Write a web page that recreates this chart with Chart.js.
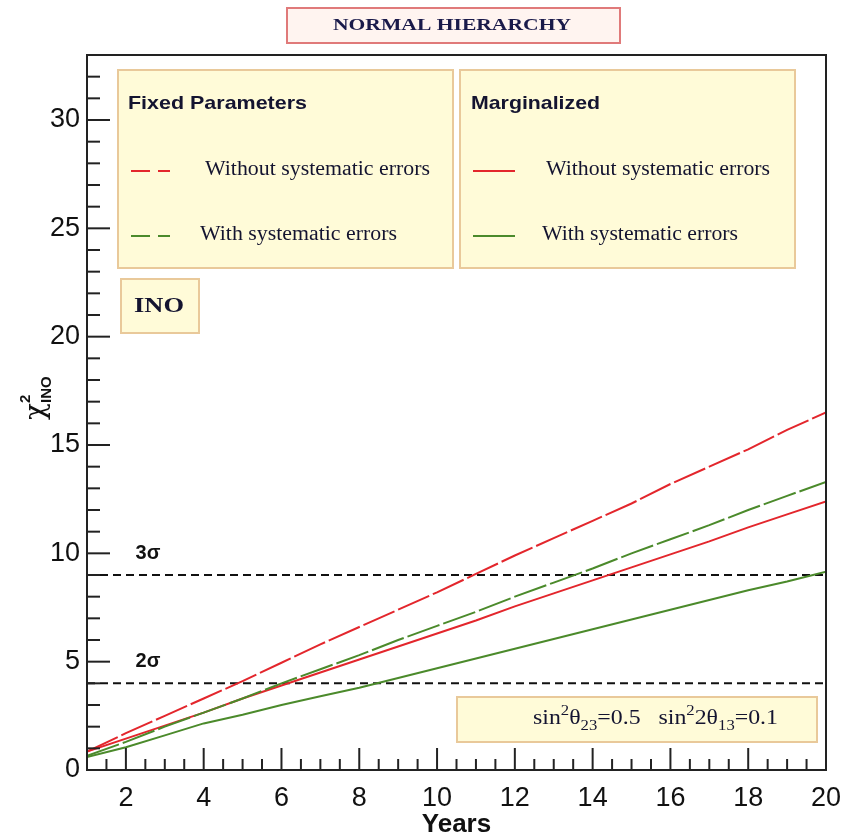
<!DOCTYPE html>
<html>
<head>
<meta charset="utf-8">
<script src="https://cdn.jsdelivr.net/npm/chart.js@4.4.1/dist/chart.umd.min.js"></script>
<style>
  html, body { margin: 0; padding: 0; background: #ffffff; }
  #wrap { width: 842px; height: 839px; }
</style>
</head>
<body>
<div id="wrap"><canvas id="c" width="842" height="839"></canvas></div>
<script>
// Exposure in years
const years = [1, 2, 3, 4, 5, 6, 7, 8, 9, 10, 11, 12, 13, 14, 15, 16, 17, 18, 19, 20];

// chi^2 for INO, fixed oscillation parameters
const fixedNoSys   = [0.85, 1.70, 2.50, 3.30, 4.10, 4.95, 5.80, 6.60, 7.40, 8.20, 9.05, 9.90, 10.70, 11.50, 12.30, 13.20, 14.00, 14.80, 15.70, 16.50];
const fixedWithSys = [0.65, 1.30, 2.00, 2.65, 3.30, 4.00, 4.65, 5.30, 6.00, 6.65, 7.30, 8.00, 8.65, 9.30, 10.00, 10.65, 11.30, 12.00, 12.65, 13.30];

// chi^2 for INO, marginalized over oscillation parameters
const margNoSys    = [0.85, 1.45, 2.05, 2.65, 3.30, 3.90, 4.50, 5.10, 5.70, 6.30, 6.90, 7.55, 8.15, 8.75, 9.35, 9.95, 10.55, 11.20, 11.80, 12.40];
const margWithSys  = [0.60, 1.05, 1.60, 2.15, 2.55, 3.00, 3.40, 3.80, 4.25, 4.70, 5.15, 5.60, 6.05, 6.50, 6.95, 7.40, 7.85, 8.30, 8.70, 9.15];

// Significance thresholds
const sigmaLevels = [4, 9];
const sigmaNames  = ['2σ', '3σ'];

// Axis ticks
const xTickLabels = [2, 4, 6, 8, 10, 12, 14, 16, 18, 20];
const yTickLabels = [0, 5, 10, 15, 20, 25, 30];

const RED = '#e3262c';
const GREEN = '#4b8a2b';
const BOX_FILL = '#fffbd8';
const BOX_EDGE = '#e9c99a';
const INK = '#141430';

const toXY = (ys) => ys.map((y, i) => ({ x: years[i], y }));

const datasets = [
  { data: toXY(fixedNoSys),   borderColor: RED,   borderWidth: 2, borderDash: [34, 4] },
  { data: toXY(fixedWithSys), borderColor: GREEN, borderWidth: 2, borderDash: [34, 4] },
  { data: toXY(margNoSys),    borderColor: RED,   borderWidth: 2 },
  { data: toXY(margWithSys),  borderColor: GREEN, borderWidth: 2 }
];
sigmaLevels.forEach((lvl) => {
  datasets.push({
    data: [{ x: years[0], y: lvl }, { x: years[years.length - 1], y: lvl }],
    borderColor: '#111111', borderWidth: 2, borderDash: [8, 5]
  });
});

function box(ctx, x, y, w, h, fill, edge, lw) {
  ctx.save();
  ctx.fillStyle = fill;
  ctx.fillRect(x, y, w, h);
  ctx.strokeStyle = edge;
  ctx.lineWidth = lw;
  ctx.strokeRect(x, y, w, h);
  ctx.restore();
}

function sample(ctx, x1, x2, y, color, dash) {
  ctx.save();
  ctx.strokeStyle = color;
  ctx.lineWidth = 2;
  ctx.setLineDash(dash);
  ctx.beginPath();
  ctx.moveTo(x1, y);
  ctx.lineTo(x2, y);
  ctx.stroke();
  ctx.restore();
}

// Text drawn from its left edge, optionally stretched to a given width
function text(ctx, str, x, y, font, color, width) {
  ctx.save();
  ctx.font = font;
  ctx.fillStyle = color || '#111';
  ctx.textAlign = 'left';
  ctx.textBaseline = 'middle';
  const w = ctx.measureText(str).width;
  const sx = width ? width / w : 1;
  ctx.translate(x, y);
  ctx.scale(sx, 1);
  ctx.fillText(str, 0, 0);
  ctx.restore();
}

// Runs of [string, font, baselineShift] laid out left to right, stretched to a width
function runs(ctx, parts, x, y, color, width) {
  ctx.save();
  let total = 0;
  parts.forEach(([s, f]) => { ctx.font = f; total += ctx.measureText(s).width; });
  const sx = width ? width / total : 1;
  ctx.translate(x, y);
  ctx.scale(sx, 1);
  ctx.fillStyle = color || '#111';
  ctx.textBaseline = 'alphabetic';
  ctx.textAlign = 'left';
  let cx = 0;
  parts.forEach(([s, f, dy]) => {
    ctx.font = f;
    ctx.fillText(s, cx, dy);
    cx += ctx.measureText(s).width;
  });
  ctx.restore();
}

const decorations = {
  id: 'decorations',
  afterDatasetsDraw(chart) {
    const { ctx, chartArea: a, scales: { x, y } } = chart;

    // Inward ticks on the left axis
    ctx.save();
    ctx.strokeStyle = '#222';
    ctx.lineWidth = 2;
    for (let v = 0; v <= 33; v += 1) {
      const py = y.getPixelForValue(v);
      const len = v % 5 === 0 ? 23 : 13;
      ctx.beginPath();
      ctx.moveTo(a.left, py);
      ctx.lineTo(a.left + len, py);
      ctx.stroke();
    }
    // Inward ticks on the bottom axis
    for (let v = 1.5; v < 20; v += 0.5) {
      const px = x.getPixelForValue(v);
      const len = v % 2 === 0 ? 22 : 11;
      ctx.beginPath();
      ctx.moveTo(px, a.bottom);
      ctx.lineTo(px, a.bottom - len);
      ctx.stroke();
    }
    ctx.restore();

    // Significance labels
    sigmaLevels.forEach((lvl, i) => {
      text(ctx, sigmaNames[i], x.getPixelForValue(2.25), y.getPixelForValue(lvl + 1),
        'bold 20px "Liberation Sans", Arial, sans-serif', '#111');
    });

    // Legend panels
    box(ctx, 118, 70, 335, 198, BOX_FILL, BOX_EDGE, 2);
    box(ctx, 460, 70, 335, 198, BOX_FILL, BOX_EDGE, 2);

    const head = 'bold 19px "Liberation Sans", Arial, sans-serif';
    const serif = '20px "Liberation Serif", "Times New Roman", serif';
    text(ctx, 'Fixed Parameters', 128, 104, head, INK, 179);
    sample(ctx, 131, 170, 171, RED, [19, 8]);
    text(ctx, 'Without systematic errors', 205, 170, serif, INK, 225);
    sample(ctx, 131, 170, 236, GREEN, [19, 8]);
    text(ctx, 'With systematic errors', 200, 235, serif, INK, 197);

    text(ctx, 'Marginalized', 471, 104, head, INK, 129);
    sample(ctx, 473, 515, 171, RED, []);
    text(ctx, 'Without systematic errors', 546, 170, serif, INK, 224);
    sample(ctx, 473, 515, 236, GREEN, []);
    text(ctx, 'With systematic errors', 542, 235, serif, INK, 196);

    // Detector tag
    box(ctx, 121, 279, 78, 54, BOX_FILL, BOX_EDGE, 2);
    text(ctx, 'INO', 134, 307, 'bold 20px "Liberation Serif", "Times New Roman", serif', INK, 50);

    // Oscillation parameters
    box(ctx, 457, 697, 360, 45, BOX_FILL, BOX_EDGE, 2);
    const f = '20px "Liberation Serif", "Times New Roman", serif';
    const fs = '14px "Liberation Serif", "Times New Roman", serif';
    runs(ctx, [
      ['sin', f, 0], ['2', fs, -9], ['θ', f, 0], ['23', fs, 6], ['=0.5', f, 0],
      ['   sin', f, 0], ['2', fs, -9], ['2θ', f, 0], ['13', fs, 6], ['=0.1', f, 0]
    ], 533, 724, INK, 245);
  },
  afterDraw(chart) {
    const { ctx, chartArea: a } = chart;
    // Frame
    ctx.save();
    ctx.strokeStyle = '#222';
    ctx.lineWidth = 2;
    ctx.strokeRect(a.left, a.top, a.right - a.left, a.bottom - a.top);
    ctx.restore();

    // Title panel
    box(ctx, 287, 8, 333, 35, '#fff4f0', '#e07a7a', 2);
    text(ctx, 'NORMAL HIERARCHY', 333, 26, 'bold 17px "Liberation Serif", "Times New Roman", serif', '#1a1a4a', 238);

    // Axis titles
    ctx.save();
    ctx.font = 'bold 26px "Liberation Sans", Arial, sans-serif';
    ctx.fillStyle = '#111';
    ctx.textAlign = 'center';
    ctx.textBaseline = 'middle';
    ctx.fillText('Years', (a.left + a.right) / 2, 825);
    ctx.restore();

    ctx.save();
    ctx.translate(44, 398);
    ctx.rotate(-Math.PI / 2);
    ctx.fillStyle = '#111';
    ctx.textBaseline = 'alphabetic';
    ctx.textAlign = 'left';
    ctx.font = '28px "DejaVu Serif", serif';
    ctx.fillText('χ', -22, 0);
    ctx.font = 'bold 15px "Liberation Sans", Arial, sans-serif';
    ctx.fillText('2', -5, -14);
    ctx.fillText('INO', -5, 7);
    ctx.restore();
  }
};

new Chart(document.getElementById('c'), {
  type: 'line',
  data: { datasets },
  options: {
    responsive: false,
    devicePixelRatio: 1,
    animation: false,
    layout: { padding: { top: 55, right: 16, left: 0, bottom: 0 } },
    elements: { point: { radius: 0 }, line: { tension: 0, fill: false } },
    plugins: { legend: { display: false }, tooltip: { enabled: false }, title: { display: false } },
    scales: {
      x: {
        type: 'linear', min: 1, max: 20,
        grid: { display: false, drawTicks: false },
        border: { display: false },
        afterBuildTicks: (s) => { s.ticks = xTickLabels.map((v) => ({ value: v })); },
        afterFit: (s) => { s.height = 69; s.paddingLeft = 0; s.paddingRight = 0; },
        ticks: {
          padding: 12, maxRotation: 0, autoSkip: false, color: '#111',
          font: { family: '"Liberation Sans", Arial, sans-serif', size: 27 }
        }
      },
      y: {
        type: 'linear', min: 0, max: 33,
        grid: { display: false, drawTicks: false },
        border: { display: false },
        afterBuildTicks: (s) => { s.ticks = yTickLabels.map((v) => ({ value: v })); },
        afterFit: (s) => { s.width = 87; s.paddingTop = 0; s.paddingBottom = 0; },
        ticks: {
          padding: 7, color: '#111',
          font: { family: '"Liberation Sans", Arial, sans-serif', size: 27 }
        }
      }
    }
  },
  plugins: [decorations]
});
</script>
</body>
</html>
